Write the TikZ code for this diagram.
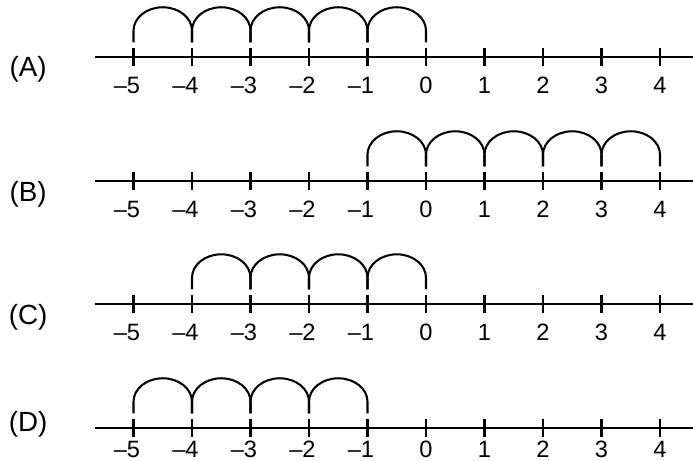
\documentclass[tikz,border=0pt]{standalone}
\usepackage{fontspec}
\setmainfont{Liberation Sans}
\usepackage{xcolor}
\definecolor{inkblack}{RGB}{0,0,0}

\tikzset{
  axisline/.style={inkblack,line width=1pt},
  tickmark/.style={inkblack,line width=1pt},
  hopline/.style={inkblack,line width=1pt},
  ticklabel/.style={inkblack,inner sep=0pt,anchor=north,font=\fontsize{11.5}{13}\selectfont},
  rowlabel/.style={inkblack,inner sep=0pt,font=\fontsize{13.5}{15}\selectfont}
}

\begin{document}
\begin{tikzpicture}
  % --- frame (one unit = one step on the number line) ---
  \useasboundingbox (-7.282,-7.880) rectangle (4.564,0);

  % --- the four number lines ---
  % row / axis height / label height / number drop / first hop / last point
  \foreach \row/\yy/\ly/\nd/\from/\to in {
    A/-0.974/-1.180/0.34/-5/0,
    B/-3.094/-3.330/0.34/-1/4,
    C/-5.197/-5.420/0.34/-4/0,
    D/-7.316/-7.256/0.22/-5/-1
  }{
    \node[rowlabel] (label\row) at (-6.80,\ly) {(\row)};
    \coordinate (start\row) at (-5.66,\yy);
    \coordinate (end\row) at (4.564,\yy);
    \draw[axisline] (start\row) -- (end\row);

    % ticks and numbers
    \foreach \n in {-5,...,4}{
      \draw[tickmark] (\n,\yy-0.16) -- (\n,\yy+0.16);
      \node[ticklabel] (num\row\n) at (\n,\yy-\nd)
        {\ifnum\n<0 \llap{\textendash}\number\numexpr-\n\relax\else\n\fi};
    }

    % hops of one unit each
    \pgfmathtruncatemacro{\last}{\to-1}
    \foreach \n in {\from,...,\last}{
      \draw[hopline] (\n,\yy+0.25) -- (\n,\yy+0.45)
        arc[start angle=180,end angle=0,x radius=0.5,y radius=0.40]
        -- (\n+1,\yy+0.25);
    }
  }
\end{tikzpicture}
\end{document}
